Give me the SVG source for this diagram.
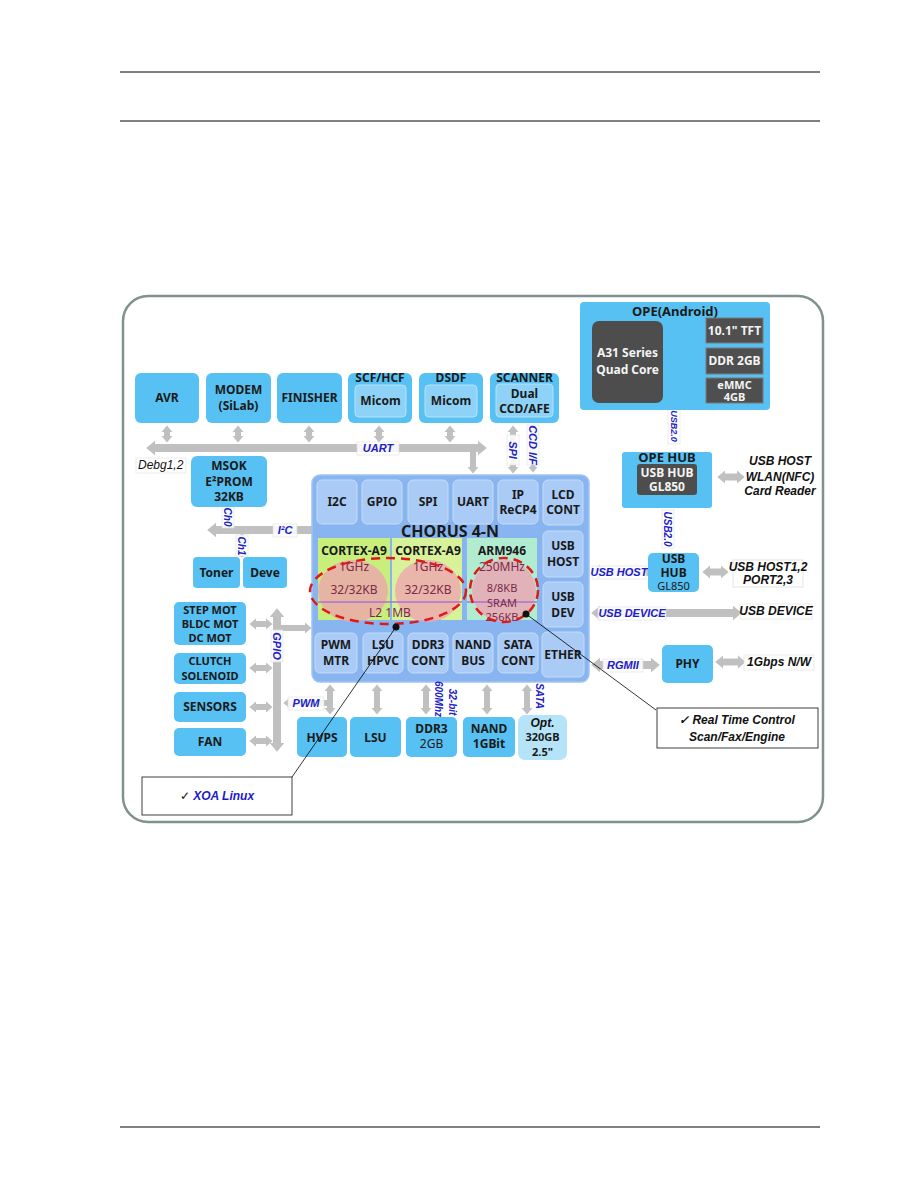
<svg xmlns="http://www.w3.org/2000/svg" width="918" height="1188" viewBox="0 0 918 1188">
<defs>
<style>
.n{fill:#56c1f2;}
.in{fill:#8fd2f7;stroke:#b5e2fa;stroke-width:1;}
.ch{fill:#a9cbf6;stroke:#c4dbfa;stroke-width:1;}
.dk{fill:#4f4f4f;stroke:#7a7a7a;stroke-width:1;}
.t{font-family:"Noto Sans","Liberation Sans",sans-serif;font-weight:bold;font-size:12px;fill:#1a1a1a;text-anchor:middle;}
.tn{font-family:"Noto Sans","Liberation Sans",sans-serif;font-size:12px;fill:#1a1a1a;text-anchor:middle;}
.tw{font-family:"Noto Sans","Liberation Sans",sans-serif;font-weight:bold;font-size:12px;fill:#f4f4f4;text-anchor:middle;}
.cr{font-family:"Noto Sans","Liberation Sans",sans-serif;font-size:12px;fill:#7a2a4a;text-anchor:middle;}
.lb{font-family:"Liberation Sans",Arial,sans-serif;font-style:italic;font-weight:bold;font-size:11px;fill:#2020c8;text-anchor:middle;}
.ex{font-family:"Liberation Sans",Arial,sans-serif;font-style:italic;font-weight:bold;font-size:12px;fill:#111;text-anchor:middle;}
.s{font-size:11px;}
.xs{font-size:10px;}
.big{font-size:16px;}
.m{font-size:13px;}
.bg{fill:#ffffff;fill-opacity:0.85;stroke:#dcdcdc;stroke-width:0.6;}
.a{stroke:#c0c0c0;fill:none;}
.ab{marker-start:url(#h);marker-end:url(#h);}
.ae{marker-end:url(#h);}
.as{marker-start:url(#h);}
.ap{stroke:#cfc7de;fill:none;marker-start:url(#hp);marker-end:url(#hp);}
</style>
<marker id="h" viewBox="0 0 6 10" refX="0" refY="5" markerWidth="1.1" markerHeight="1.9" orient="auto-start-reverse" markerUnits="strokeWidth"><path d="M0,0 L6,5 L0,10z" fill="#c0c0c0"/></marker>
<marker id="hp" viewBox="0 0 6 10" refX="0" refY="5" markerWidth="1.1" markerHeight="1.9" orient="auto-start-reverse" markerUnits="strokeWidth"><path d="M0,0 L6,5 L0,10z" fill="#cfc7de"/></marker>
</defs>
<rect width="918" height="1188" fill="#ffffff"/>
<g id="page-lines" stroke="#000" stroke-width="1">
<line x1="120" y1="72" x2="820" y2="72"/>
<line x1="120" y1="121" x2="820" y2="121"/>
<line x1="120" y1="1127" x2="820" y2="1127"/>
</g>
<rect id="frame" x="123" y="296" width="700" height="526" rx="25" fill="#fff" stroke="#7f9290" stroke-width="2.5"/>

<g id="connectors">
<line class="a ab" x1="155" y1="448" x2="478" y2="448" stroke-width="8"/>
<line class="a ab" x1="167" y1="432" x2="167" y2="436" stroke-width="6"/>
<line class="a ab" x1="238" y1="432" x2="238" y2="436" stroke-width="6"/>
<line class="a ab" x1="309" y1="432" x2="309" y2="436" stroke-width="6"/>
<line class="a ab" x1="379" y1="432" x2="379" y2="436" stroke-width="6"/>
<line class="a ab" x1="450" y1="432" x2="450" y2="436" stroke-width="6"/>
<line class="a ae" x1="473" y1="451" x2="473" y2="467" stroke-width="6"/>
<line class="a ab" x1="513" y1="432" x2="513" y2="467" stroke-width="6"/>
<line class="a ae" x1="533" y1="425" x2="533" y2="467" stroke-width="5"/>
<line class="a as" x1="216" y1="530" x2="312" y2="530" stroke-width="8"/>
<line stroke="#c8c8c8" stroke-width="3" x1="228" y1="507" x2="228" y2="526"/>
<line stroke="#c8c8c8" stroke-width="3" x1="242" y1="534" x2="242" y2="557"/>
<line class="a ab" x1="277" y1="617" x2="277" y2="743" stroke-width="8"/>
<line class="a ab" x1="256" y1="624" x2="266" y2="624" stroke-width="6"/>
<line class="a ab" x1="256" y1="668" x2="266" y2="668" stroke-width="6"/>
<line class="a ab" x1="256" y1="707" x2="266" y2="707" stroke-width="6"/>
<line class="a ab" x1="256" y1="741" x2="266" y2="741" stroke-width="6"/>
<line class="a ae" x1="281" y1="628" x2="305" y2="628" stroke-width="6"/>
<line class="a as" x1="290" y1="703" x2="330" y2="703" stroke-width="6"/>
<line class="a ab" x1="330" y1="691" x2="330" y2="708" stroke-width="6"/>
<line class="a ab" x1="377" y1="691" x2="377" y2="708" stroke-width="6"/>
<line class="a ab" x1="426" y1="691" x2="426" y2="708" stroke-width="6"/>
<line class="a ab" x1="487" y1="691" x2="487" y2="708" stroke-width="6"/>
<line class="a ab" x1="527" y1="691" x2="527" y2="708" stroke-width="6"/>
<line class="ap" x1="672" y1="331" x2="697" y2="331" stroke-width="7"/>
<line class="ap" x1="672" y1="361" x2="697" y2="361" stroke-width="7"/>
<line class="ap" x1="672" y1="390" x2="697" y2="390" stroke-width="7"/>
<line class="a ab" x1="725" y1="477" x2="737" y2="477" stroke-width="7"/>
<line class="a as" x1="600" y1="572" x2="648" y2="572" stroke-width="8"/>
<line class="a ab" x1="710" y1="572" x2="721" y2="572" stroke-width="7"/>
<line class="a ab" x1="600" y1="613" x2="733" y2="613" stroke-width="8"/>
<line class="a ab" x1="600" y1="665" x2="651" y2="665" stroke-width="8"/>
<line class="a ab" x1="723" y1="662" x2="738" y2="662" stroke-width="7"/>
</g>

<g id="labels">
<rect class="bg" x="357" y="442" width="42" height="13"/><text class="lb" x="378" y="452">UART</text>
<rect class="bg" x="136" y="458" width="50" height="15"/><text x="138" y="469" font-family="Liberation Sans, Arial, sans-serif" font-style="italic" font-size="12" fill="#111">Debg1,2</text>
<rect class="bg" x="507" y="435" width="12" height="30"/><text class="lb" transform="translate(513,450) rotate(90)" dy="4">SPI</text>
<rect class="bg" x="527" y="425" width="12" height="40"/><text class="lb" transform="translate(533,445) rotate(90)" dy="4">CCD I/F</text>
<rect class="bg" x="273" y="524" width="24" height="13"/><text class="lb" x="285" y="534">I²C</text>
<rect class="bg" x="222" y="507" width="12" height="21"/><text class="lb xs" transform="translate(228,517) rotate(90)" dy="4">Ch0</text>
<rect class="bg" x="236" y="535" width="12" height="21"/><text class="lb xs" transform="translate(242,546) rotate(90)" dy="4">Ch1</text>
<rect class="bg" x="271" y="630" width="12" height="32"/><text class="lb" transform="translate(277,646) rotate(90)" dy="4">GPIO</text>
<rect class="bg" x="288" y="697" width="36" height="13"/><text class="lb" x="306" y="707">PWM</text>
<rect class="bg" x="662" y="510" width="12" height="38"/><text class="lb xs" transform="translate(668,529) rotate(90)" dy="4">USB2.0</text>
<rect class="bg" x="668" y="408" width="12" height="36"/><text class="lb" style="font-size:9px" transform="translate(674,426) rotate(90)" dy="3">USB2.0</text>
<rect class="bg" x="592" y="566" width="54" height="13"/><text class="lb" x="619" y="576">USB HOST</text>
<rect class="bg" x="598" y="607" width="68" height="13"/><text class="lb" x="632" y="617">USB DEVICE</text>
<rect class="bg" x="603" y="659" width="40" height="13"/><text class="lb" x="623" y="669">RGMII</text>
<text class="ex" x="780" y="465">USB HOST</text>
<text class="ex" x="780" y="481">WLAN(NFC)</text>
<text class="ex" x="780" y="495">Card Reader</text>
<rect x="733" y="560" width="70" height="27" fill="#fff" stroke="#dcdcdc" stroke-width="0.8"/>
<text class="ex" x="768" y="571">USB HOST1,2</text>
<text class="ex" x="768" y="584">PORT2,3</text>
<rect class="bg" x="740" y="604" width="72" height="15"/><text class="ex" x="776" y="615">USB DEVICE</text>
<rect class="bg" x="744" y="655" width="70" height="15"/><text class="ex" x="779" y="666">1Gbps N/W</text>
</g>

<g id="avr"><rect class="n" x="135" y="373" width="64" height="50" rx="6"/><text class="t" x="167" y="402">AVR</text></g>
<g id="modem"><rect class="n" x="206" y="373" width="65" height="50" rx="6"/><text class="t" x="238.5" y="394">MODEM</text><text class="t" x="238.5" y="410">(SiLab)</text></g>
<g id="finisher"><rect class="n" x="277" y="373" width="65" height="50" rx="6"/><text class="t" x="309.5" y="402">FINISHER</text></g>
<g id="scf"><rect class="n" x="348" y="373" width="64" height="50" rx="6"/><rect class="in" x="355" y="385" width="51" height="32" rx="4"/><text class="t" x="380" y="382">SCF/HCF</text><text class="t" x="380.5" y="405">Micom</text></g>
<g id="dsdf"><rect class="n" x="419" y="373" width="64" height="50" rx="6"/><rect class="in" x="425" y="385" width="52" height="32" rx="4"/><text class="t" x="451" y="382">DSDF</text><text class="t" x="451" y="405">Micom</text></g>
<g id="scanner"><rect class="n" x="490" y="373" width="69" height="50" rx="6"/><rect class="in" x="496" y="384" width="57" height="33" rx="4"/><text class="t" x="524.5" y="382">SCANNER</text><text class="t" x="524.5" y="398">Dual</text><text class="t" x="524.5" y="413">CCD/AFE</text></g>
<g id="msok"><rect class="n" x="191" y="456" width="76" height="51" rx="6"/><text class="t" x="229" y="470">MSOK</text><text class="t" x="229" y="486">E²PROM</text><text class="t" x="229" y="501">32KB</text></g>
<g id="toner"><rect class="n" x="193" y="557" width="47" height="31" rx="4"/><text class="t" x="216.5" y="577">Toner</text></g>
<g id="deve"><rect class="n" x="243" y="557" width="44" height="31" rx="4"/><text class="t" x="265" y="577">Deve</text></g>

<g id="chorus">
<rect x="312" y="475" width="277" height="207" rx="8" fill="#88b5f0" stroke="#9fc3f4" stroke-width="1.5"/>
<rect class="ch" x="317" y="480" width="40" height="44" rx="5"/><text class="t" x="337" y="506">I2C</text>
<rect class="ch" x="362" y="480" width="40" height="44" rx="5"/><text class="t" x="382" y="506">GPIO</text>
<rect class="ch" x="408" y="480" width="40" height="44" rx="5"/><text class="t" x="428" y="506">SPI</text>
<rect class="ch" x="453" y="480" width="40" height="44" rx="5"/><text class="t" x="473" y="506">UART</text>
<rect class="ch" x="498" y="480" width="40" height="44" rx="5"/><text class="t" x="518" y="499">IP</text><text class="t" x="518" y="514">ReCP4</text>
<rect class="ch" x="543" y="480" width="40" height="45" rx="5"/><text class="t" x="563" y="499">LCD</text><text class="t" x="563" y="514">CONT</text>
<rect class="ch" x="543" y="531" width="40" height="46" rx="5"/><text class="t" x="563" y="550">USB</text><text class="t" x="563" y="566">HOST</text>
<rect class="ch" x="543" y="582" width="40" height="45" rx="5"/><text class="t" x="563" y="601">USB</text><text class="t" x="563" y="617">DEV</text>
<rect class="ch" x="542" y="632" width="42" height="45" rx="5"/><text class="t" x="563" y="659">ETHER</text>
<rect class="ch" x="315" y="633" width="42" height="40" rx="5"/><text class="t" x="336" y="649">PWM</text><text class="t" x="336" y="665">MTR</text>
<rect class="ch" x="363" y="633" width="40" height="40" rx="5"/><text class="t" x="383" y="649">LSU</text><text class="t" x="383" y="665">HPVC</text>
<rect class="ch" x="408" y="633" width="40" height="40" rx="5"/><text class="t" x="428" y="649">DDR3</text><text class="t" x="428" y="665">CONT</text>
<rect class="ch" x="453" y="633" width="40" height="40" rx="5"/><text class="t" x="473" y="649">NAND</text><text class="t" x="473" y="665">BUS</text>
<rect class="ch" x="498" y="633" width="40" height="40" rx="5"/><text class="t" x="518" y="649">SATA</text><text class="t" x="518" y="665">CONT</text>
<rect x="318" y="538" width="72" height="82" fill="#c8ee7c"/>
<rect x="392" y="538" width="70" height="82" fill="#d8f29a"/>
<rect x="467" y="538" width="70" height="82" fill="#b2ecd0"/>
<text class="t big" x="450" y="537">CHORUS 4-N</text>
<ellipse cx="353" cy="591" rx="35" ry="31" fill="#f0a0b0" fill-opacity="0.75"/>
<ellipse cx="428" cy="591" rx="33" ry="31" fill="#f0a0b0" fill-opacity="0.75"/>
<ellipse cx="504" cy="591" rx="32" ry="31" fill="#f0a0b0" fill-opacity="0.75"/>
<line x1="318" y1="602" x2="462" y2="602" stroke="#b070d0" stroke-width="1.5"/>
<line x1="467" y1="602" x2="537" y2="602" stroke="#b070d0" stroke-width="1.5"/>
<text class="t" x="354" y="555">CORTEX-A9</text>
<text class="t" x="428" y="555">CORTEX-A9</text>
<text class="t" x="502" y="555">ARM946</text>
<text class="cr" x="354" y="571">1GHz</text>
<text class="cr" x="428" y="571">1GHz</text>
<text class="cr" x="502" y="571">250MHz</text>
<text class="cr" x="354" y="594">32/32KB</text>
<text class="cr" x="428" y="594">32/32KB</text>
<text class="cr s" x="502" y="592">8/8KB</text>
<text class="cr s" x="502" y="607" fill="#6a4a8a">SRAM</text>
<text class="cr s" x="502" y="621" fill="#6a4a8a">256KB</text>
<text class="cr" x="390" y="617" fill="#6a4a8a">L2  1MB</text>
<ellipse cx="388" cy="591" rx="78" ry="33" fill="none" stroke="#e01818" stroke-width="2.5" stroke-dasharray="9 6"/>
<ellipse cx="504" cy="590" rx="34" ry="32" fill="none" stroke="#e01818" stroke-width="2.5" stroke-dasharray="9 6"/>
</g>

<g id="step-mot"><rect class="n" x="174" y="602" width="72" height="43" rx="5"/><text class="t s" x="210" y="614">STEP MOT</text><text class="t s" x="210" y="628">BLDC MOT</text><text class="t s" x="210" y="642">DC MOT</text></g>
<g id="clutch"><rect class="n" x="174" y="653" width="72" height="31" rx="5"/><text class="t s" x="210" y="665">CLUTCH</text><text class="t s" x="210" y="680">SOLENOID</text></g>
<g id="sensors"><rect class="n" x="174" y="692" width="72" height="30" rx="5"/><text class="t" x="210" y="711">SENSORS</text></g>
<g id="fan"><rect class="n" x="174" y="728" width="72" height="28" rx="5"/><text class="t" x="210" y="746">FAN</text></g>

<g id="hvps"><rect class="n" x="297" y="717" width="50" height="40" rx="5"/><text class="t" x="322" y="742">HVPS</text></g>
<g id="lsu"><rect class="n" x="350" y="717" width="51" height="40" rx="5"/><text class="t" x="375.5" y="742">LSU</text></g>
<g id="ddr3"><rect class="n" x="406" y="717" width="51" height="40" rx="5"/><text class="t" x="431.5" y="733">DDR3</text><text class="tn" x="431.5" y="748">2GB</text></g>
<g id="nand"><rect class="n" x="463" y="717" width="52" height="40" rx="5"/><text class="t" x="489" y="733">NAND</text><text class="t" x="489" y="748">1GBit</text></g>
<g id="hdd"><rect x="518" y="715" width="49" height="45" rx="7" fill="#b5e4f9"/><text class="ex" x="542.5" y="727">Opt.</text><text class="t s" x="542.5" y="741">320GB</text><text class="t s" x="542.5" y="756">2.5"</text></g>

<g id="labels-bottom">
<text class="lb xs" transform="translate(439,699) rotate(90)" dy="4">600Mhz</text>
<text class="lb xs" transform="translate(453,702) rotate(90)" dy="4">32-bit</text>
<text class="lb xs" transform="translate(540,696) rotate(90)" dy="4">SATA</text>
</g>

<g id="ope">
<rect class="n" x="580" y="302" width="190" height="108" rx="4"/>
<text class="t m" x="675" y="316">OPE(Android)</text>
<rect x="592" y="321" width="71" height="82" rx="7" fill="#4d4d4d"/>
<text class="tw" x="627.5" y="357">A31 Series</text>
<text class="tw" x="627.5" y="374">Quad Core</text>
<rect class="dk" x="706" y="318" width="57" height="25"/><text class="tw" x="734.5" y="335">10.1" TFT</text>
<rect class="dk" x="706" y="348" width="57" height="26"/><text class="tw" x="734.5" y="365">DDR 2GB</text>
<rect class="dk" x="706" y="378" width="57" height="25"/><text class="tw s" x="734.5" y="389">eMMC</text><text class="tw s" x="734.5" y="401">4GB</text>
</g>
<g id="ope-hub"><rect class="n" x="622" y="452" width="90" height="56" rx="3"/><rect x="637" y="464" width="60" height="31" rx="3" fill="#4d4d4d"/><text class="t m" x="667" y="462">OPE HUB</text><text class="tw" x="667" y="477">USB HUB</text><text class="tw" x="667" y="491">GL850</text></g>
<g id="usb-hub"><rect class="n" x="648" y="553" width="51" height="39" rx="5"/><text class="t" x="673.5" y="563">USB</text><text class="t" x="673.5" y="577">HUB</text><text class="tn s" x="673.5" y="590">GL850</text></g>
<g id="phy"><rect class="n" x="662" y="645" width="51" height="38" rx="5"/><text class="t" x="687.5" y="668">PHY</text></g>

<g id="callout-lines">
<line stroke="#000" stroke-width="0.8" x1="396" y1="627" x2="292" y2="777"/>
<line stroke="#000" stroke-width="0.8" x1="526" y1="614" x2="656" y2="710"/>
<circle cx="396" cy="627" r="3.5" fill="#111"/>
<circle cx="526" cy="614" r="3.5" fill="#111"/>
</g>
<g id="callout-xoa"><rect x="142" y="777" width="150" height="38" fill="#fff" stroke="#111" stroke-width="0.8"/><text x="217" y="800" font-family="Liberation Sans, Arial, sans-serif" font-size="12" text-anchor="middle"><tspan fill="#111">✓ </tspan><tspan fill="#1a1acc" font-weight="bold" font-style="italic">XOA Linux</tspan></text></g>
<g id="callout-rtc"><rect x="657" y="708" width="161" height="40" fill="#fff" stroke="#111" stroke-width="0.8"/><text class="ex" x="737" y="724">✓ Real Time Control</text><text class="ex" x="737" y="741">Scan/Fax/Engine</text></g>
</svg>
